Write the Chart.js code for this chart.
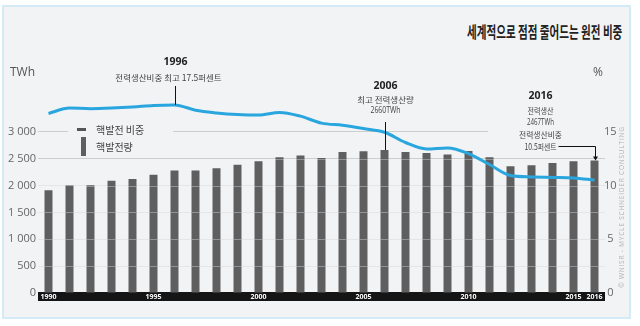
<!DOCTYPE html>
<html>
<head>
<meta charset="utf-8">
<script src="https://cdn.jsdelivr.net/npm/chart.js@4.4.1/dist/chart.umd.min.js"></script>
<style>
    html, body { margin: 0; padding: 0; background: #fff; }
    #wrap { position: relative; width: 640px; height: 326px; overflow: hidden; }
    #frame { position: absolute; left: 2px; top: 5px; width: 629px; height: 314px; box-sizing: border-box; border: 2px solid #d3ebf6; background: #f2f3f5; }
    #title { position: absolute; right: 18px; top: 23px; font: bold 16px "Noto Sans CJK KR", sans-serif; line-height: 17px; color: #222; transform: scaleX(0.66); transform-origin: right center; white-space: nowrap; }
    canvas { position: absolute; left: 0; top: 0; }
</style>
</head>
<body>
<div id="wrap">
    <div id="frame"></div>
    <div id="title">세계적으로 점점 줄어드는 원전 비중</div>
    <canvas id="nuclearChart" width="640" height="326"></canvas>
</div>
<script>
    const years = ['1990', '1991', '1992', '1993', '1994', '1995', '1996', '1997', '1998', '1999',
        '2000', '2001', '2002', '2003', '2004', '2005', '2006', '2007', '2008', '2009',
        '2010', '2011', '2012', '2013', '2014', '2015', '2016'];
    // 핵발전량 (TWh)
    const nuclearOutput = [1911, 2000, 2004, 2090, 2122, 2202, 2277, 2277, 2320, 2388,
        2450, 2524, 2556, 2513, 2624, 2636, 2660, 2624, 2606, 2575,
        2643, 2524, 2357, 2376, 2420, 2450, 2467];
    // 핵발전 비중 (%)
    const nuclearShare = [16.7, 17.2, 17.15, 17.2, 17.3, 17.45, 17.5, 17.0, 16.75, 16.6,
        16.55, 16.8, 16.45, 15.8, 15.6, 15.3, 14.95, 14.0, 13.4, 13.5,
        12.97, 11.95, 10.93, 10.8, 10.75, 10.7, 10.5];
    const outputTicks = [0, 500, 1000, 1500, 2000, 2500, 3000];
    const shareTicks = [0, 5, 10, 15];
    const yearLabels = ['1990', '1995', '2000', '2005', '2010', '2015', '2016'];

    const BG = '#f2f3f5';
    const BAR_COLOR = '#5f5f5f';
    const LINE_COLOR = '#2aa6df';
    const KR_FONT = '"Noto Sans CJK KR", sans-serif';
    const TICK_FONT = '"Open Sans", sans-serif';

    function formatThousands(value) {
        if (value < 1000) {
            return String(value);
        }
        return Math.floor(value / 1000) + ' ' + String(value % 1000).padStart(3, '0');
    }

    function drawText(ctx, str, x, y, font, color, align, maxWidth) {
        ctx.font = font;
        ctx.fillStyle = color;
        ctx.textAlign = align || 'center';
        ctx.textBaseline = 'middle';
        if (maxWidth) {
            ctx.fillText(str, x, y, maxWidth);
        } else {
            ctx.fillText(str, x, y);
        }
    }

    function drawLine(ctx, x1, y1, x2, y2) {
        ctx.beginPath();
        ctx.moveTo(x1, y1);
        ctx.lineTo(x2, y2);
        ctx.stroke();
    }

    // black year band under the plot
    const bandPlugin = {
        id: 'yearBand',
        beforeDraw(chart) {
            const { ctx, chartArea } = chart;
            ctx.save();
            ctx.fillStyle = '#151515';
            ctx.fillRect(chartArea.left, chartArea.bottom - 1, chartArea.right - chartArea.left, 9);
            ctx.restore();
        }
    };

    // patches of background behind legend and 2016 note (they hide the 3 000 line)
    const patchPlugin = {
        id: 'patches',
        beforeDatasetsDraw(chart) {
            const { ctx, chartArea } = chart;
            ctx.save();
            ctx.fillStyle = BG;
            ctx.fillRect(chartArea.left + 30, 120, 105, 37);
            ctx.fillRect(488, 86, chartArea.right - 488, 64);
            ctx.restore();
        }
    };

    // light stripes across bars at each grid value
    const stripePlugin = {
        id: 'stripes',
        afterDatasetDraw(chart, args) {
            if (args.index !== 0) {
                return;
            }
            const { ctx } = chart;
            const yScale = chart.scales.y;
            ctx.save();
            ctx.strokeStyle = 'rgba(255,255,255,0.32)';
            ctx.lineWidth = 1;
            args.meta.data.forEach((bar, i) => {
                outputTicks.forEach(t => {
                    if (t === 0 || t >= nuclearOutput[i]) {
                        return;
                    }
                    const py = Math.round(yScale.getPixelForValue(t)) + 0.5;
                    drawLine(ctx, bar.x - bar.width / 2, py, bar.x + bar.width / 2, py);
                });
            });
            ctx.restore();
        }
    };

    const notesPlugin = {
        id: 'notes',
        afterDatasetsDraw(chart) {
            const { ctx, chartArea } = chart;
            const xScale = chart.scales.x;
            const yScale = chart.scales.y;
            const shareScale = chart.scales.y1;
            ctx.save();
            ctx.strokeStyle = '#111';
            ctx.fillStyle = '#111';
            ctx.lineWidth = 1;

            // axis units
            drawText(ctx, 'TWh', 10, 72.5, '12px ' + TICK_FONT, '#555', 'left');
            drawText(ctx, '%', 598, 72.5, '12px ' + TICK_FONT, '#555', 'center');

            // legend
            const lx = chartArea.left + 39;
            ctx.fillStyle = '#555';
            ctx.fillRect(lx, 128, 9, 3);
            ctx.fillStyle = BAR_COLOR;
            ctx.fillRect(lx + 4, 137, 5, 19);
            drawText(ctx, '핵발전 비중', lx + 19, 130.5, '10px ' + KR_FONT, '#444', 'left');
            drawText(ctx, '핵발전량', lx + 19, 147, '10px ' + KR_FONT, '#444', 'left');

            // 1996 peak share
            const i96 = years.indexOf('1996');
            const x96 = Math.round(xScale.getPixelForValue(i96)) + 0.5;
            drawText(ctx, '1996', x96, 62, 'bold 10.5px ' + TICK_FONT, '#222');
            drawText(ctx, '전력생산비중 최고 17.5퍼센트', x96 - 7, 78, '8.5px ' + KR_FONT, '#444', 'center', 111);
            drawLine(ctx, x96, 86, x96, shareScale.getPixelForValue(nuclearShare[i96]));

            // 2006 peak output
            const i06 = years.indexOf('2006');
            const x06 = Math.round(xScale.getPixelForValue(i06)) + 0.5;
            drawText(ctx, '2006', x06, 86, 'bold 10.5px ' + TICK_FONT, '#222');
            drawText(ctx, '최고 전력생산량', x06, 100, '8.5px ' + KR_FONT, '#444', 'center', 64);
            drawText(ctx, '2660TWh', x06, 111, '8.5px ' + TICK_FONT, '#444', 'center', 30);
            drawLine(ctx, x06, 122, x06, yScale.getPixelForValue(nuclearOutput[i06]));

            // 2016
            const i16 = years.indexOf('2016');
            const x16 = Math.round(xScale.getPixelForValue(i16)) + 0.5;
            const cx = x16 - 55;
            drawText(ctx, '2016', cx, 96, 'bold 10.5px ' + TICK_FONT, '#222');
            drawText(ctx, '전력생산', cx, 110.5, '8.5px ' + KR_FONT, '#444', 'center', 26);
            drawText(ctx, '2467TWh', cx, 122.5, '8.5px ' + TICK_FONT, '#444', 'center', 27);
            drawText(ctx, '전력생산비중', cx, 135, '8.5px ' + KR_FONT, '#444', 'center', 43);
            drawText(ctx, '10.5퍼센트', cx, 147, '8.5px ' + KR_FONT, '#444', 'center', 32);
            const top16 = yScale.getPixelForValue(nuclearOutput[i16]);
            ctx.strokeStyle = '#111';
            ctx.beginPath();
            ctx.moveTo(cx + 18, 146.5);
            ctx.lineTo(x16, 146.5);
            ctx.lineTo(x16, top16 - 3);
            ctx.stroke();
            ctx.fillStyle = '#111';
            ctx.beginPath();
            ctx.moveTo(x16 - 2.5, top16 - 4);
            ctx.lineTo(x16 + 2.5, top16 - 4);
            ctx.lineTo(x16, top16);
            ctx.closePath();
            ctx.fill();

            // source, rotated
            ctx.translate(622, 207);
            ctx.rotate(-Math.PI / 2);
            ctx.letterSpacing = '0.8px';
            drawText(ctx, '© WNISR - MYCLE SCHNEIDER CONSULTING', 0, 0, '6.5px ' + TICK_FONT, '#b4b4b4', 'center', 165);
            ctx.restore();
        }
    };

    function createNuclearChart(canvas) {
        return new Chart(canvas, {
            data: {
                labels: years,
                datasets: [
                    {
                        type: 'bar',
                        label: '핵발전량',
                        data: nuclearOutput,
                        yAxisID: 'y',
                        backgroundColor: BAR_COLOR,
                        barPercentage: 0.38,
                        categoryPercentage: 1,
                        order: 2
                    },
                    {
                        type: 'line',
                        label: '핵발전 비중',
                        data: nuclearShare,
                        yAxisID: 'y1',
                        borderColor: LINE_COLOR,
                        borderWidth: 3,
                        pointRadius: 0,
                        cubicInterpolationMode: 'monotone',
                        order: 1
                    }
                ]
            },
            options: {
                responsive: false,
                animation: false,
                layout: {
                    padding: { top: 78, right: 0, bottom: 23, left: 0 }
                },
                scales: {
                    x: {
                        type: 'category',
                        afterFit: scale => { scale.height = 10; },
                        grid: { display: false, drawTicks: false },
                        border: { display: false },
                        ticks: {
                            autoSkip: false,
                            maxRotation: 0,
                            padding: 0,
                            color: '#fff',
                            font: { family: TICK_FONT, size: 7, weight: 'bold' },
                            callback: function (value) {
                                const label = this.getLabelForValue(value);
                                return yearLabels.includes(label) ? label : '';
                            }
                        }
                    },
                    y: {
                        position: 'left',
                        min: 0,
                        max: 4000,
                        afterFit: scale => { scale.width = 38; },
                        border: { display: false },
                        grid: {
                            drawTicks: false,
                            color: context => {
                                const v = context.tick.value;
                                if (v === 0 || v > 3000) {
                                    return 'rgba(0,0,0,0)';
                                }
                                return v >= 2500 ? '#cdcdcd' : '#e6e6e6';
                            }
                        },
                        ticks: {
                            stepSize: 500,
                            padding: 2,
                            color: '#666',
                            font: { family: TICK_FONT, size: 11 },
                            callback: value => outputTicks.includes(value) ? formatThousands(value) : ''
                        }
                    },
                    y1: {
                        position: 'right',
                        min: 0,
                        max: 20,
                        afterFit: scale => { scale.width = 35; },
                        border: { display: false },
                        grid: { display: false, drawTicks: false },
                        ticks: {
                            stepSize: 5,
                            padding: -1,
                            crossAlign: 'center',
                            color: '#666',
                            font: { family: TICK_FONT, size: 11 },
                            callback: value => shareTicks.includes(value) ? String(value) : ''
                        }
                    }
                },
                plugins: {
                    legend: { display: false },
                    tooltip: { enabled: false }
                }
            },
            plugins: [bandPlugin, patchPlugin, stripePlugin, notesPlugin]
        });
    }

    createNuclearChart(document.getElementById('nuclearChart'));
</script>
</body>
</html>
